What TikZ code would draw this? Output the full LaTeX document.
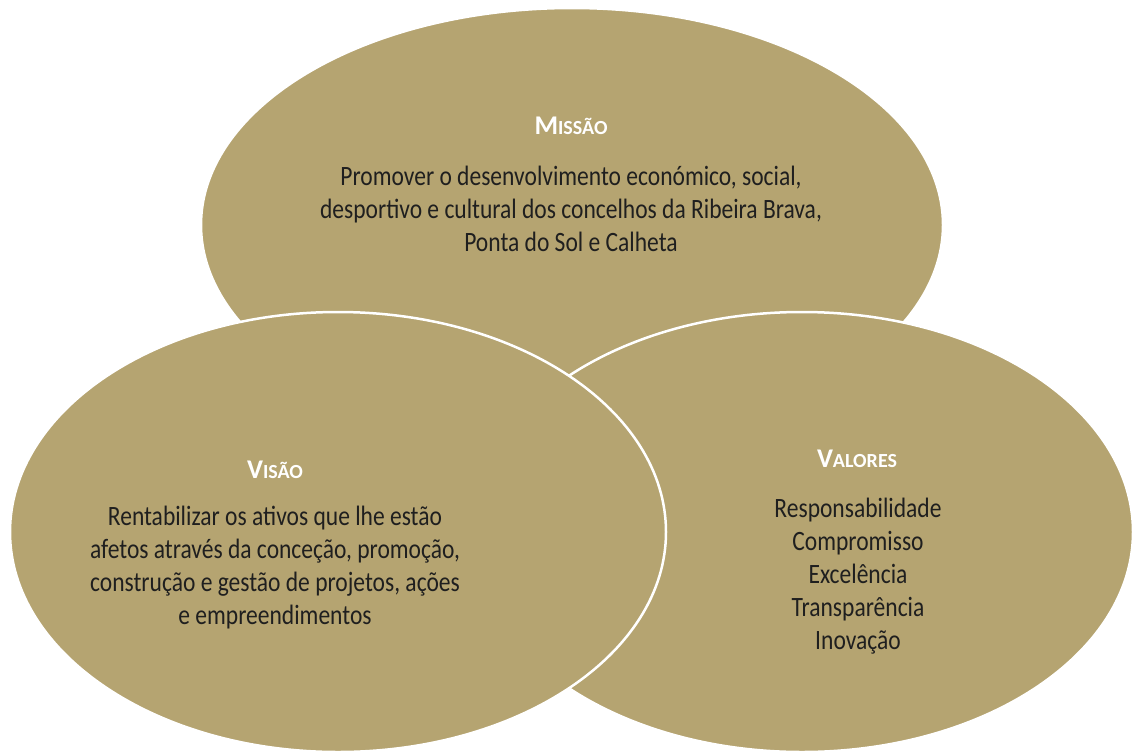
\documentclass[tikz,border=0pt]{standalone}
\usepackage{fontspec}
\setmainfont{Carlito}[FakeStretch=0.84]
\newfontfamily\titlefont{Carlito}
\definecolor{olivetan}{RGB}{181,164,113}
\newcommand{\ttl}[2]{\titlefont\bfseries\fontsize{27}{34}\selectfont #1\fontsize{20}{34}\selectfont #2}
\begin{document}
\begin{tikzpicture}[x=1pt,y=-1pt,
  blob/.style={fill=olivetan,draw=white,line width=2.5pt},
  body/.style={anchor=base,text=black!88,font=\fontsize{28}{34}\selectfont,inner sep=0pt},
  title/.style={anchor=base,text=white,inner sep=0pt}]
\useasboundingbox (0,0) rectangle (1135,753);
\fill[white] (0,0) rectangle (1135,753);
% ellipses
\path[blob] (572,225) ellipse [x radius=371, y radius=217];
\path[blob] (802,532) ellipse [x radius=331, y radius=220];
\path[blob] (338,532) ellipse [x radius=328, y radius=220];
% Missao
\node[title] (mt) at (571,134) {\ttl{M}{ISSÃO}};
\node[body] (m1) at (571,185) {Promover o desenvolvimento económico, social,};
\node[body] (m2) at (571,218) {desportivo e cultural dos concelhos da Ribeira Brava,};
\node[body] (m3) at (571,251) {Ponta do Sol e Calheta};
% Visao
\node[title] (vt) at (275,478) {\ttl{V}{ISÃO}};
\node[body] (v1) at (275,525) {Rentabilizar os ativos que lhe estão};
\node[body] (v2) at (275,558) {afetos através da conceção, promoção,};
\node[body] (v3) at (275,591) {construção e gestão de projetos, ações};
\node[body] (v4) at (275,624) {e empreendimentos};
% Valores
\node[title] (at) at (857,467) {\ttl{V}{ALORES}};
\node[body] (a1) at (858,517) {Responsabilidade};
\node[body] (a2) at (858,550) {Compromisso};
\node[body] (a3) at (858,583) {Excelência};
\node[body] (a4) at (858,616) {Transparência};
\node[body] (a5) at (858,649) {Inovação};
\end{tikzpicture}
\end{document}
